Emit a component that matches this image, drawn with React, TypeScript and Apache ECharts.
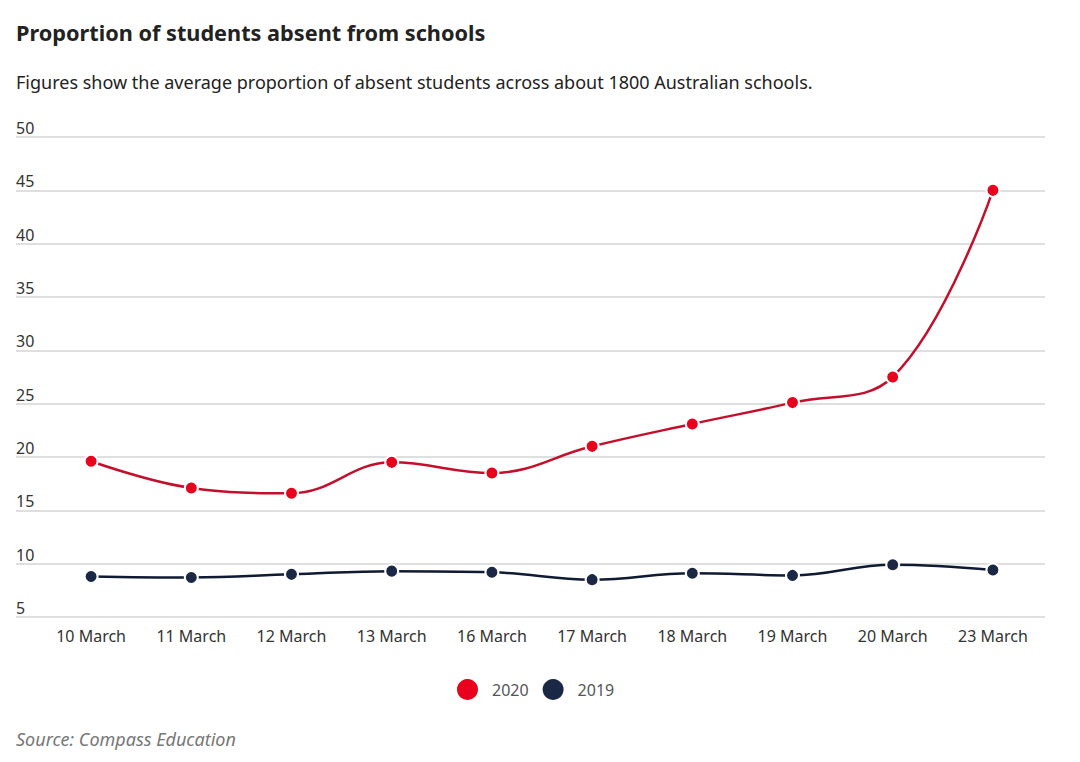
import React, { useEffect, useRef } from "react";
import * as echarts from "echarts";

const categories = ["10 March", "11 March", "12 March", "13 March", "16 March", "17 March", "18 March", "19 March", "20 March", "23 March"];
const values2020 = [19.6, 17.1, 16.6, 19.5, 18.5, 21.0, 23.1, 25.1, 27.5, 45.0];
const values2019 = [8.8, 8.7, 9.0, 9.3, 9.2, 8.5, 9.1, 8.9, 9.9, 9.4];
const seriesNames = ["2020", "2019"];
const yMin = 5;
const yMax = 50;
const yInterval = 5;

const FONT = "'Noto Sans', sans-serif";

export default function App() {
  const ref = useRef<HTMLDivElement>(null);
  useEffect(() => {
    document.body.style.margin = "0";
    const chart = echarts.init(ref.current!, null, { renderer: "svg" });
    const top = 137;
    const bottom = 762 - 617;
    chart.setOption({
      animation: false,
      backgroundColor: "#ffffff",
      textStyle: { fontFamily: FONT },
      title: [
        {
          text: "Proportion of students absent from schools",
          left: 11,
          top: 16,
          textStyle: { fontFamily: FONT, fontSize: 21.7, fontWeight: "bold", color: "#222222" },
        },
        {
          text: "Figures show the average proportion of absent students across about 1800 Australian schools.",
          left: 11,
          top: 68,
          textStyle: { fontFamily: FONT, fontSize: 18, fontWeight: "normal", color: "#222222" },
        },
        {
          text: "Source: Compass Education",
          left: 11,
          top: 725,
          textStyle: { fontFamily: FONT, fontSize: 18, fontStyle: "italic", fontWeight: "normal", color: "#777777" },
        },
      ],
      legend: {
        data: seriesNames,
        bottom: 57,
        left: 452,
        icon: "circle",
        itemWidth: 21,
        itemHeight: 21,
        itemGap: 14,
        itemStyle: { borderWidth: 0 },
        textStyle: { fontFamily: FONT, fontSize: 16, color: "#555555", padding: [0, 0, 0, 9] },
      },
      grid: [
        { left: 41, right: 37, top, bottom },
        { left: 16, right: 35, top, bottom },
      ],
      xAxis: [
        {
          type: "category",
          gridIndex: 0,
          data: categories,
          boundaryGap: true,
          axisLine: { show: false },
          axisTick: { show: false },
          axisLabel: { color: "#333333", fontSize: 16, margin: 11, fontFamily: FONT, interval: 0 },
        },
        {
          type: "value",
          gridIndex: 1,
          min: 0,
          max: 1,
          show: false,
        },
      ],
      yAxis: [
        {
          type: "value",
          gridIndex: 0,
          min: yMin,
          max: yMax,
          interval: yInterval,
          show: false,
          splitLine: { show: false },
        },
        {
          type: "value",
          gridIndex: 1,
          min: yMin,
          max: yMax,
          interval: yInterval,
          axisLine: { show: false },
          axisTick: { show: false },
          axisLabel: {
            inside: true,
            margin: 0,
            verticalAlign: "bottom",
            padding: [0, 0, 1, 0],
            color: "#333333",
            fontSize: 16,
            fontFamily: FONT,
          },
          splitLine: { lineStyle: { color: "#d4d4d4", width: 1.5 } },
        },
      ],
      series: [
        {
          name: seriesNames[0],
          type: "line",
          xAxisIndex: 0,
          yAxisIndex: 0,
          data: values2020,
          smooth: 0.4,
          symbol: "circle",
          symbolSize: 13,
          lineStyle: { color: "#c40f2c", width: 2.5 },
          itemStyle: { color: "#e8001c", borderColor: "#ffffff", borderWidth: 2 },
          z: 3,
        },
        {
          name: seriesNames[1],
          type: "line",
          xAxisIndex: 0,
          yAxisIndex: 0,
          data: values2019,
          smooth: 0.4,
          symbol: "circle",
          symbolSize: 13,
          lineStyle: { color: "#0f1a33", width: 2.5 },
          itemStyle: { color: "#1b2845", borderColor: "#ffffff", borderWidth: 2 },
          z: 2,
        },
      ],
    });
    return () => chart.dispose();
  }, []);
  return <div ref={ref} style={{ width: 1080, height: 762 }} />;
}
